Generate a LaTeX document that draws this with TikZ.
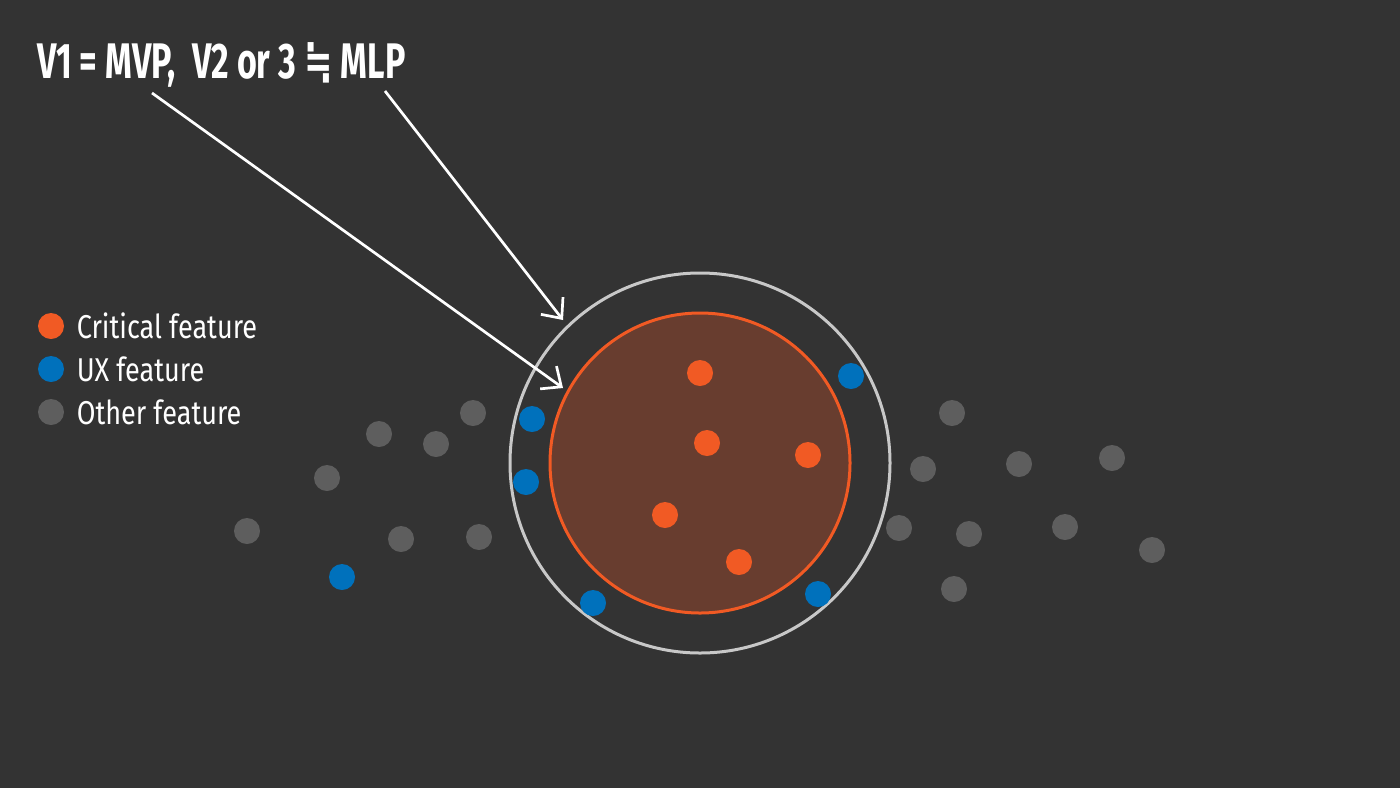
\documentclass[tikz,border=0pt]{standalone}
\usepackage{fontspec}
\setmainfont[FakeStretch=0.82]{Fira Sans}
\newfontfamily\titlefont[FakeStretch=0.68]{Fira Sans}
\newfontfamily\symfont[FakeStretch=0.68]{DejaVu Sans}
\usepackage{tikz}
\usetikzlibrary{arrows.meta,positioning}
\definecolor{bgc}{HTML}{333333}
\definecolor{crit}{HTML}{F15A24}
\definecolor{ux}{HTML}{0071BC}
\definecolor{other}{HTML}{5E5E5E}
\definecolor{core}{HTML}{683D2F}
\definecolor{ring}{HTML}{C8C8C8}

\begin{document}
\begin{tikzpicture}[x=0.5pt,y=-0.5pt,
  dot/.style={circle,inner sep=0pt,minimum size=13pt},
  cdot/.style={dot,fill=crit},
  udot/.style={dot,fill=ux},
  odot/.style={dot,fill=other},
  legend/.style={right=6pt of #1,text=white,font=\fontsize{16.5}{18}\selectfont,inner sep=0pt},
  pointer/.style={white,line width=1.35pt,-{Straight Barb[length=8pt,width=14pt,line width=1.35pt]}}]
  \fill[bgc] (0,0) rectangle (1400,788);
  \useasboundingbox (0,0) rectangle (1400,788);
  % rings
  \node[circle,draw=ring,line width=1.5pt,minimum size=190pt,inner sep=0pt] (mlp) at (700,463) {};
  \node[circle,draw=crit,fill=core,line width=1.5pt,minimum size=150pt,inner sep=0pt] (mvp) at (700,463) {};
  % features
  \foreach \px/\py [count=\i] in {700/373,707/443,808/455,665/515,739/562}
    \node[cdot] (c\i) at (\px,\py) {};
  \foreach \px/\py [count=\i] in {851/376,532/419,526/482,593/603,818/594,342/577}
    \node[udot] (u\i) at (\px,\py) {};
  \foreach \px/\py [count=\i] in {473/413,379/434,436/444,327/478,247/531,401/539,479/537,
    952/413,923/469,1019/464,1112/458,899/528,969/534,1065/527,1152/550,954/589}
    \node[odot] (o\i) at (\px,\py) {};
  % legend
  \node[cdot] (lc) at (51,326) {};
  \node[udot] (lu) at (51,369) {};
  \node[odot] (lo) at (51,412) {};
  \node[legend=lc] {Critical feature};
  \node[legend=lu] {UX feature};
  \node[legend=lo] {Other feature};
  % title
  \node[anchor=base west,text=white,inner sep=0pt,font=\titlefont\bfseries\fontsize{25}{27}\selectfont] (title) at (37,78)
    {V1 = MVP,\ \ V2 or 3 {\symfont\bfseries ≒} MLP};
  \coordinate (v1) at (152,93);
  \coordinate (v2) at (385,91);
  \coordinate (tipmvp) at (563,388);
  \coordinate (tipmlp) at (563,320);
  \draw[pointer] (v1) -- (tipmvp);
  \draw[pointer] (v2) -- (tipmlp);
\end{tikzpicture}
\end{document}
